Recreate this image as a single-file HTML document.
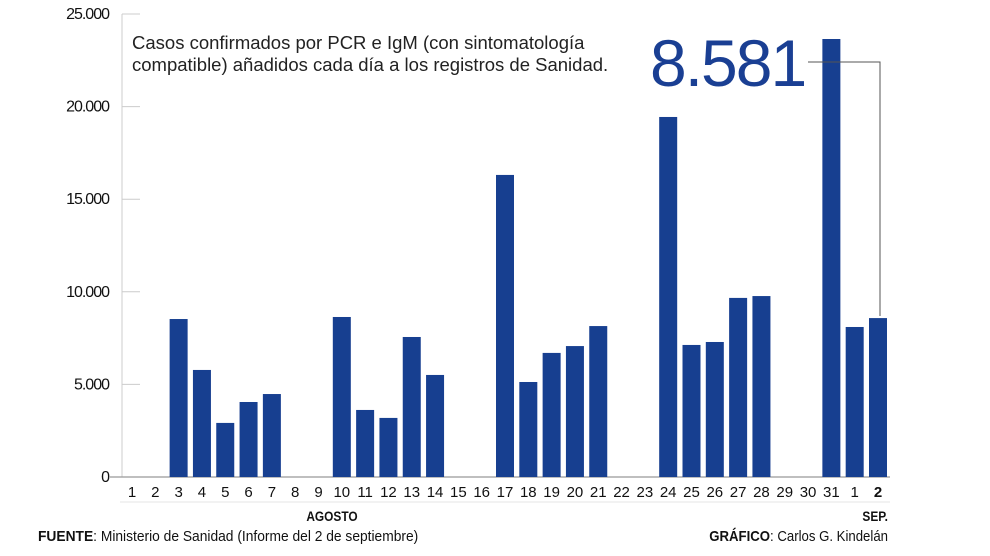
<!DOCTYPE html>
<html><head><meta charset="utf-8"><style>
body{margin:0;background:#fff;font-family:"Liberation Sans",sans-serif;}
svg{display:block}
</style></head><body>
<svg id="chart" width="990" height="556" viewBox="0 0 990 556" xmlns="http://www.w3.org/2000/svg">
<g id="axes"></g>
<g id="bars"></g>
<text x="132" y="49" font-size="18.5" fill="#222">Casos confirmados por PCR e IgM (con sintomatología</text>
<text x="132" y="71" font-size="18.5" fill="#222">compatible) añadidos cada día a los registros de Sanidad.</text>
<text x="650" y="86" font-size="66" fill="#1a3f93" letter-spacing="-2">8.581</text>
<polyline points="808,62 880,62 880,316" fill="none" stroke="#555" stroke-width="1"/>
<line x1="120" y1="502" x2="890" y2="502" stroke="#e6e6e6" stroke-width="1"/>
<text x="332" y="521" font-size="14" font-weight="bold" text-anchor="middle" fill="#111" transform="translate(332 0) scale(0.85 1) translate(-332 0)">AGOSTO</text>
<text x="888" y="521" font-size="14" font-weight="bold" text-anchor="end" fill="#111" transform="translate(888 0) scale(0.85 1) translate(-888 0)">SEP.</text>
<text x="38" y="541" font-size="15" fill="#111" transform="translate(38 0) scale(0.92 1) translate(-38 0)"><tspan font-weight="bold">FUENTE</tspan>: Ministerio de Sanidad (Informe del 2 de septiembre)</text>
<text x="888" y="541" font-size="15" fill="#111" text-anchor="end" transform="translate(888 0) scale(0.88 1) translate(-888 0)"><tspan font-weight="bold">GRÁFICO</tspan>: Carlos G. Kindelán</text>
</svg>
<script>
const categories = ["1","2","3","4","5","6","7","8","9","10","11","12","13","14","15","16","17","18","19","20","21","22","23","24","25","26","27","28","29","30","31","1","2"];
const values = [0,0,8530,5780,2920,4050,4480,0,0,8640,3620,3190,7560,5510,0,0,16310,5130,6700,7070,8150,0,0,19440,7130,7290,9670,9770,0,0,23650,8100,8581];
const yTicks = [0,5000,10000,15000,20000,25000];
const yTickLabels = ["0","5.000","10.000","15.000","20.000","25.000"];
const NS="http://www.w3.org/2000/svg";
const y0=477, yTop=14, yMax=25000;
const y = v => y0 - (v/yMax)*(y0-yTop);
const x = i => 132 + i*(878-132)/(categories.length-1);
const axes=document.getElementById('axes'), bars=document.getElementById('bars');
function mk(tag,attrs,parent){const e=document.createElementNS(NS,tag);for(const k in attrs)e.setAttribute(k,attrs[k]);parent.appendChild(e);return e;}
const ax=mk('line',{x1:122,y1:y(yMax),x2:122,y2:y0,stroke:'#ccc','stroke-width':1},axes);


const base=mk('line',{x1:110,y1:y0,x2:890,y2:y0,stroke:'#999','stroke-width':1.2},axes);


yTicks.forEach((t,i)=>{
  if(t>0){const tk=mk('line',{x1:122,y1:y(t),x2:140,y2:y(t),stroke:'#ccc','stroke-width':1},axes);
  
  }
  const l=mk('text',{x:109,y:y(t)+5,'font-size':16,'text-anchor':'end',fill:'#111','letter-spacing':'-1'},axes);
  l.textContent=yTickLabels[i];
  
  
});
categories.forEach((c,i)=>{
  if(values[i]>0){
    const r=mk('rect',{x:x(i)-9,y:y(values[i]),width:18,height:y0-y(values[i]),fill:'#173f90'},bars);
    
    
  }
  const t=mk('text',{x:x(i),y:497,'font-size':15,'text-anchor':'middle',fill:'#111','font-weight':i==categories.length-1?'bold':'normal'},axes);
  t.textContent=c;
  
  
});
</script>
</body></html>
